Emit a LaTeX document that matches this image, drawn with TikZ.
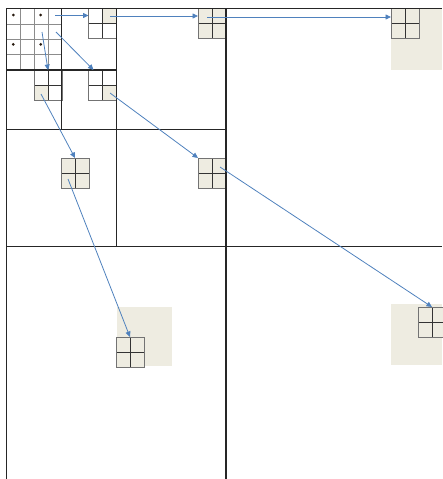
\documentclass[tikz,border=0pt]{standalone}
\usetikzlibrary{arrows.meta}
\definecolor{beigebg}{HTML}{EEECE1}
\definecolor{arrowblue}{HTML}{4F81BD}
\begin{document}
\begin{tikzpicture}[x=1pt,y=-1pt,
  frame/.style={draw=black!85,line width=1.8pt},
  fine/.style={draw=black!45,line width=0.9pt},
  gbox/.style={draw=black!55,line width=1pt,minimum width=28pt,minimum height=30pt,
    inner sep=0pt,outer sep=0pt,anchor=north west,
    path picture={\draw[black!80,line width=1pt]
      (path picture bounding box.north) -- (path picture bounding box.south)
      (path picture bounding box.west) -- (path picture bounding box.east);}},
  full/.style={fill=beigebg},
  link/.style={draw=arrowblue,line width=0.8pt,-{Triangle[length=5.5pt,width=5pt]}},
  dot/.style={circle,fill=black!80!brown,inner sep=0pt,minimum size=3pt}]
\useasboundingbox (0,0) rectangle (442,479);
% shaded regions
\fill[beigebg] (391,9) rectangle (442,70);
\fill[beigebg] (391,304) rectangle (442,365);
\fill[beigebg] (117,307) rectangle (172,366);
\fill[beigebg] (102.5,8.5) rectangle (116.5,24);
\fill[beigebg] (34,85) rectangle (47.5,100);
\fill[beigebg] (102.5,85) rectangle (116.5,100);
% fine 4x4 grid
\draw[fine] (20.5,8.5) -- (20.5,70) (34.3,8.5) -- (34.3,70) (48,8.5) -- (48,70)
  (6.5,24) -- (61.5,24) (6.5,39) -- (61.5,39) (6.5,54.5) -- (61.5,54.5);
\node[dot] (d1) at (13.3,15) {};
\node[dot] (d2) at (40.7,15) {};
\node[dot] (d3) at (13.3,44.3) {};
\node[dot] (d4) at (40.7,44.3) {};
% 2x2 grids
\node[gbox] (gA) at (88.5,8.5) {};
\node[gbox] (gB) at (34,70) {};
\node[gbox] (gC) at (88.5,70) {};
\node[gbox,full] (gD) at (198,8.5) {};
\node[gbox,full] (gE) at (391,8.5) {};
\node[gbox,full] (gF) at (61,158) {};
\node[gbox,full] (gG) at (198,158) {};
\node[gbox,full] (gH) at (116,337) {};
\node[gbox,full] (gI) at (418,307) {};
% frame lines
\draw[frame] (6.5,479) -- (6.5,8.5) -- (442,8.5);
\draw[frame] (226,8.5) -- (226,479);
\draw[frame] (6.5,246.5) -- (442,246.5);
\draw[frame] (116.5,8.5) -- (116.5,246.5);
\draw[frame] (6.5,129.5) -- (226,129.5);
\draw[frame] (61.5,8.5) -- (61.5,129.5);
\draw[frame] (6.5,70) -- (116.5,70);
% arrow start points
\coordinate (s1) at (55,15.5);
\coordinate (s2) at (42,32);
\coordinate (s3) at (56,32);
\coordinate (s4) at (110,16);
\coordinate (s5) at (207,17);
\coordinate (s6) at (41,94);
\coordinate (s7) at (110,93);
\coordinate (s8) at (68,179);
\coordinate (s9) at (220,167);
% arrows
\draw[link] (s1) -- (s1 -| gA.west);
\draw[link] (s2) -- (gB.north);
\draw[link] (s3) -- ([xshift=5pt]gC.north west);
\draw[link] (s4) -- (s4 -| gD.west);
\draw[link] (s5) -- (s5 -| gE.west);
\draw[link] (s6) -- (gF.north);
\draw[link] (s7) -- (gG.north west);
\draw[link] (s8) -- (gH.north);
\draw[link] (s9) -- (gI.north);
\end{tikzpicture}
\end{document}
